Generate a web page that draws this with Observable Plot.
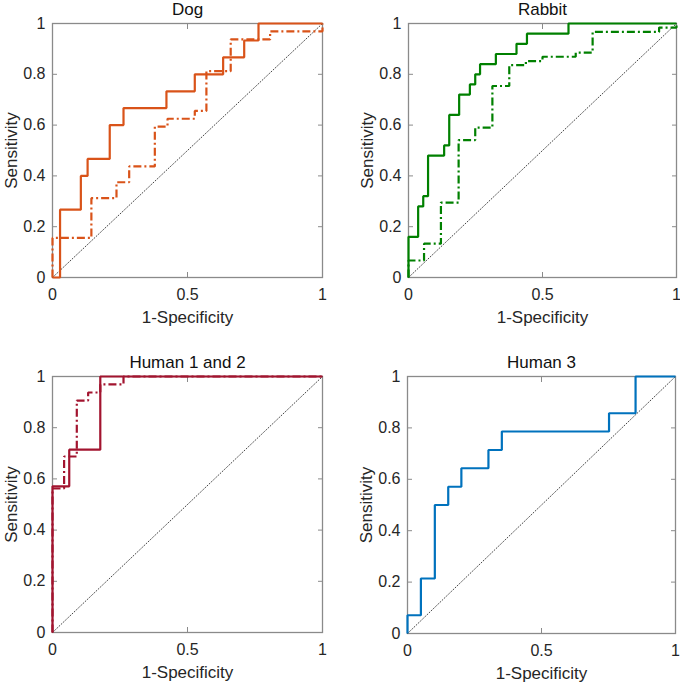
<!DOCTYPE html>
<html>
<head>
<meta charset="utf-8">
<script src="https://cdn.jsdelivr.net/npm/d3@7"></script>
<script src="https://cdn.jsdelivr.net/npm/@observablehq/plot@0.6"></script>
<style>
  body { margin: 0; background: #fff; }
  #wrap { position: relative; width: 680px; height: 683px; overflow: hidden; }
  #wrap svg { position: absolute; }
</style>
</head>
<body>
<div id="wrap"></div>
<script>
// ---- data ----
const xTicks = [0, 0.5, 1];
const yTicks = [0, 0.2, 0.4, 0.6, 0.8, 1];
const chanceLine = [0, 1];

const titles = ["Dog", "Rabbit", "Human 1 and 2", "Human 3"];
const xLabel = "1-Specificity";
const yLabel = "Sensitivity";

const dogSolidX = [0, 0.028, 0.105, 0.13, 0.212, 0.263, 0.422, 0.527, 0.632, 0.71, 0.763, 1];
const dogSolidY = [0, 0.267, 0.4, 0.467, 0.6, 0.667, 0.733, 0.8, 0.867, 0.933, 1, 1];
const dogDashX = [0, 0, 0.144, 0.237, 0.284, 0.379, 0.426, 0.527, 0.57, 0.66, 0.806, 1, 1];
const dogDashY = [0, 0.156, 0.3125, 0.375, 0.4375, 0.594, 0.625, 0.656, 0.8125, 0.9375, 0.969, 0.969, 1];

const rabbitSolidX = [0, 0, 0.036, 0.055, 0.073, 0.133, 0.152, 0.189, 0.229, 0.249, 0.267, 0.326, 0.403, 0.442, 0.597, 1];
const rabbitSolidY = [0, 0.16, 0.28, 0.32, 0.48, 0.52, 0.64, 0.72, 0.76, 0.8, 0.84, 0.88, 0.92, 0.96, 1, 1];
const rabbitDashX = [0, 0, 0.058, 0.121, 0.187, 0.249, 0.313, 0.376, 0.438, 0.5, 0.624, 0.687, 0.935, 1];
const rabbitDashY = [0, 0.067, 0.133, 0.295, 0.541, 0.59, 0.754, 0.836, 0.852, 0.869, 0.885, 0.967, 0.984, 1];

const human12SolidX = [0, 0, 0.062, 0.177, 1];
const human12SolidY = [0, 0.571, 0.714, 1, 1];
const human12DashX = [0, 0, 0.043, 0.09, 0.132, 0.177, 0.263, 1];
const human12DashY = [0, 0.5625, 0.6875, 0.906, 0.9375, 0.969, 1, 1];

const human3X = [0, 0, 0.05, 0.102, 0.152, 0.201, 0.302, 0.352, 0.752, 0.851, 1];
const human3Y = [0, 0.071, 0.214, 0.5, 0.571, 0.643, 0.714, 0.786, 0.857, 1, 1];

const colors = ["#D95319", "#008000", "#A2142F", "#0072BD"];

// ---- drawing ----
const toRows = (xs, ys) => xs.map((x, i) => ({x, y: ys[i]}));
const DASHDOT = "8,3,2,3";
const FONT = "'Liberation Sans', Arial, Helvetica, sans-serif";
const INK = "#262626";
const FRAME = "#8a8a8a";
const fmt = d => String(d);

// series listed dashed first so the solid curve is drawn on top
const panels = [
  {title: titles[0], color: colors[0], series: [[dogDashX, dogDashY, DASHDOT], [dogSolidX, dogSolidY, null]],
   left: 0, top: 0, w: 340, h: 330, mL: 52, mR: 18, mT: 23, mB: 53},
  {title: titles[1], color: colors[1], series: [[rabbitDashX, rabbitDashY, DASHDOT], [rabbitSolidX, rabbitSolidY, null]],
   left: 340, top: 0, w: 340, h: 330, mL: 68, mR: 4, mT: 23, mB: 53},
  {title: titles[2], color: colors[2], series: [[human12DashX, human12DashY, DASHDOT], [human12SolidX, human12SolidY, null]],
   left: 0, top: 350, w: 340, h: 333, mL: 52, mR: 18, mT: 26, mB: 51},
  {title: titles[3], color: colors[3], series: [[human3X, human3Y, null]],
   left: 340, top: 350, w: 340, h: 333, mL: 67, mR: 5, mT: 26, mB: 50}
];

const wrap = document.getElementById("wrap");
for (const p of panels) {
  const lineMarks = p.series.map(([xs, ys, dash]) =>
    Plot.line(toRows(xs, ys), {
      x: "x", y: "y", curve: "step-after",
      stroke: p.color, strokeWidth: 2.2,
      strokeDasharray: dash ?? undefined,
      strokeLinejoin: "miter", strokeLinecap: "butt"
    })
  );
  const svg = Plot.plot({
    width: p.w, height: p.h,
    marginLeft: p.mL, marginRight: p.mR, marginTop: p.mT, marginBottom: p.mB,
    x: {domain: [0, 1]},
    y: {domain: [0, 1]},
    style: {fontFamily: FONT, fontSize: "16px", color: INK, background: "transparent", overflow: "visible"},
    marks: [
      Plot.frame({stroke: FRAME, strokeWidth: 1.3}),
      Plot.axisX(xTicks, {anchor: "bottom", tickSize: -5, tickPadding: 16, tickFormat: fmt, stroke: FRAME, fill: INK, fontSize: 16, label: null}),
      Plot.axisX(xTicks, {anchor: "top", tickSize: -5, tickFormat: () => "", stroke: FRAME, label: null}),
      Plot.axisY(yTicks, {anchor: "left", tickSize: -5, tickPadding: 12, tickFormat: fmt, stroke: FRAME, fill: INK, fontSize: 16, label: null}),
      Plot.axisY(yTicks, {anchor: "right", tickSize: -5, tickFormat: () => "", stroke: FRAME, label: null}),
      Plot.line(chanceLine, {x: d => d, y: d => d, stroke: "#444", strokeWidth: 1, strokeDasharray: "1,2"}),
      ...lineMarks,
      Plot.text([p.title], {frameAnchor: "top", lineAnchor: "middle", dy: -14, fontSize: 17, fill: "#111"}),
      Plot.text([xLabel], {frameAnchor: "bottom", lineAnchor: "middle", dy: 40, fontSize: 17, fill: INK}),
      Plot.text([yLabel], {frameAnchor: "left", textAnchor: "middle", lineAnchor: "middle", dx: -41, rotate: -90, fontSize: 17, fill: INK})
    ]
  });
  svg.style.left = p.left + "px";
  svg.style.top = p.top + "px";
  wrap.appendChild(svg);
}
</script>
</body>
</html>
